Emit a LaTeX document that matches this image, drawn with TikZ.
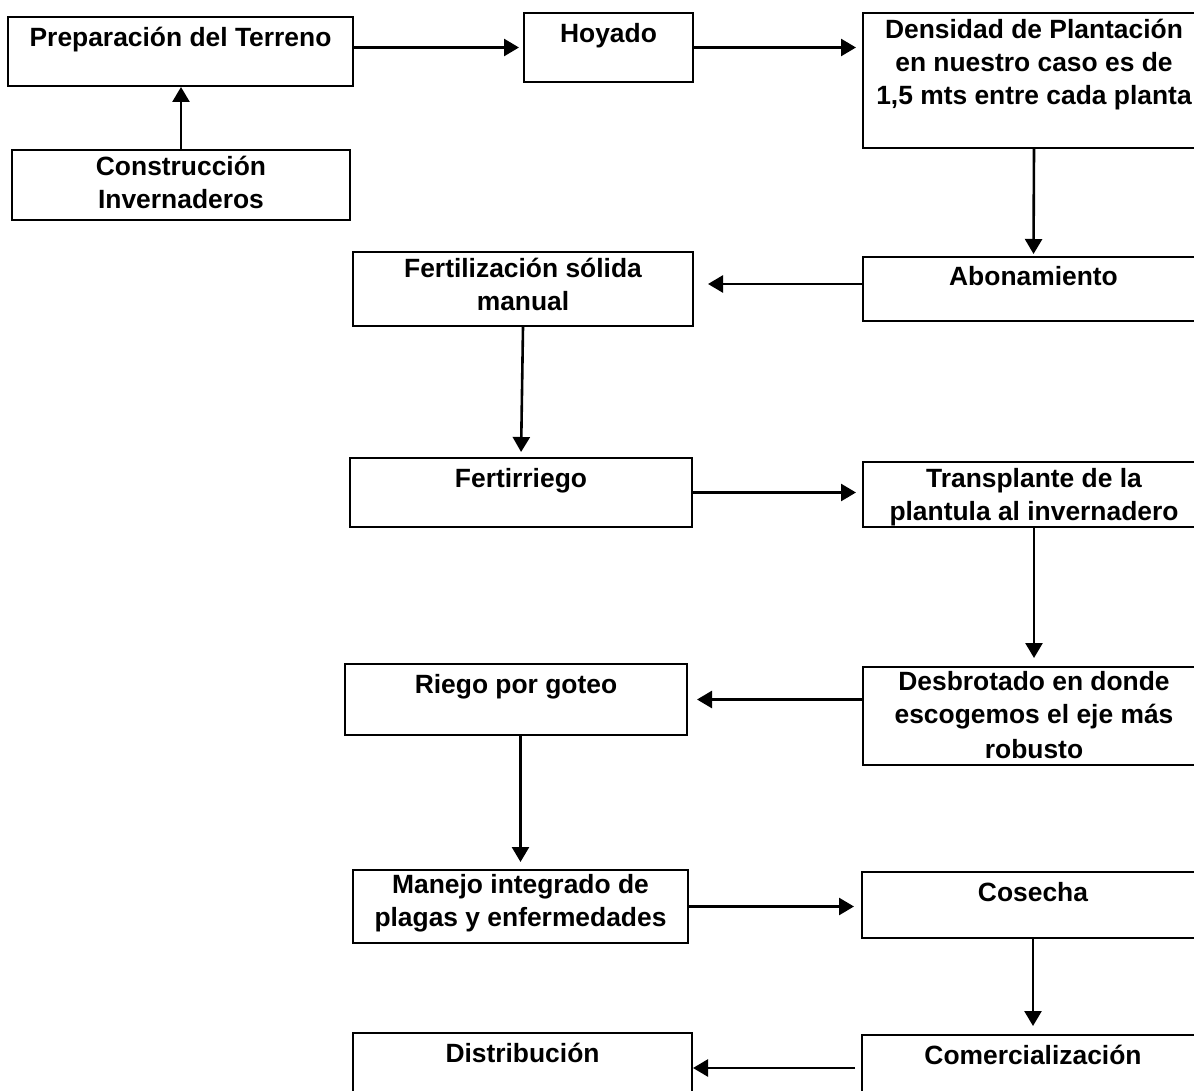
\documentclass[tikz,border=0pt]{standalone}
\usepackage{fontspec}
\setmainfont{Liberation Sans}
\usetikzlibrary{arrows.meta,positioning}

\begin{document}
\begin{tikzpicture}[x=1pt, y=-1pt,
	box/.style = {draw, line width=2pt, inner sep=0pt, minimum width=342pt},
	txt/.style = {align=center, inner sep=0pt,
		font=\bfseries\fontsize{26.4}{33}\selectfont, execute at begin node=\strut},
	arr/.style = {line width=2.6pt, -{Triangle[width=17pt,length=15pt]}, shorten >=6pt}
]
\useasboundingbox (0,0) rectangle (1194,1091);
\clip (0,0) rectangle (1194,1091);

% boxes
\node [box, minimum width=345pt, minimum height=69pt] (prep) at (180.5,51.5) {};
\node [box, minimum width=338pt, minimum height=70pt] (cons) at (181,185) {};
\node [box, minimum width=169pt, minimum height=69pt] (hoy) at (608.5,47.5) {};
\node [box, minimum height=135pt] (dens) at (1034,80.5) {};
\node [box, minimum height=64pt] (abon) at (1033.5,289) {};
\node [box, minimum width=340pt, minimum height=74pt] (fsol) at (523,289) {};
\node [box, minimum height=69pt] (ferr) at (521,492.5) {};
\node [box, minimum height=65pt] (trans) at (1034,494.5) {};
\node [box, minimum height=71pt] (riego) at (516,699.5) {};
\node [box, minimum height=98pt] (desb) at (1034,716) {};
\node [box, minimum width=335pt, minimum height=73pt] (manejo) at (520.5,906.5) {};
\node [box, minimum height=66pt] (cosecha) at (1033,905) {};
\node [box, minimum height=70pt] (comer) at (1033,1070) {};
\node [box, minimum width=339pt, minimum height=70pt] (dist) at (522.5,1068) {};

% texts
\node [txt, below=7pt of prep.north] (tprep) {Preparación del Terreno};
\node [txt, below=7pt of cons.north] (tcons) {Construcción\\Invernaderos};
\node [txt, below=7pt of hoy.north] (thoy) {Hoyado};
\node [txt, below=7pt of dens.north] (tdens) {Densidad de Plantación\\en nuestro caso es de\\1,5 mts entre cada planta};
\node [txt, below=6pt of abon.north] (tabon) {Abonamiento};
\node [txt, below=7pt of fsol.north] (tfsol) {Fertilización sólida\\manual};
\node [txt, below=7pt of ferr.north] (tferr) {Fertirriego};
\node [txt, below=7pt of trans.north] (ttrans) {Transplante de la\\plantula al invernadero};
\node [txt, below=7pt of riego.north] (triego) {Riego por goteo};
\node [txt, below=5pt of desb.north] (tdesb) {Desbrotado en donde\\escogemos el eje más\\[2pt]robusto};
\node [txt, below=5pt of manejo.north] (tmanejo) {Manejo integrado de\\plagas y enfermedades};
\node [txt, below=7pt of cosecha.north] (tcosecha) {Cosecha};
\node [txt, below=7pt of comer.north] (tcomer) {Comercialización};
\node [txt, below=7pt of dist.north] (tdist) {Distribución};

% arrows
\draw [arr, shorten >=0pt] (cons.north) -- (cons.north |- prep.south);
\draw [arr, shorten >=4pt] (prep.east |- hoy) -- (hoy.west);
\draw [arr] (hoy) -- (hoy -| dens.west);
\draw [arr, shorten >=2pt] (dens.south) -- (abon.north);
\draw [arr, shorten >=14pt] ([yshift=5pt]abon.west) -- ([yshift=5pt]fsol.east);
\draw [arr, shorten >=5pt] (fsol.south) -- (ferr.north);
\draw [arr] (ferr) -- (ferr -| trans.west);
\draw [arr, shorten >=8pt] (trans.south) -- (desb.north);
\draw [arr, shorten >=9pt] (riego.east -| desb.west) -- (riego.east);
\draw [arr, shorten >=7pt] (manejo.north |- riego.south) -- (manejo.north);
\draw [arr, shorten >=7pt] (manejo) -- (manejo -| cosecha.west);
\draw [arr, shorten >=8pt] (cosecha.south) -- (comer.north);
\draw [arr, shorten <=6pt, shorten >=0pt] (dist.east -| comer.west) -- (dist.east);
\end{tikzpicture}
\end{document}
